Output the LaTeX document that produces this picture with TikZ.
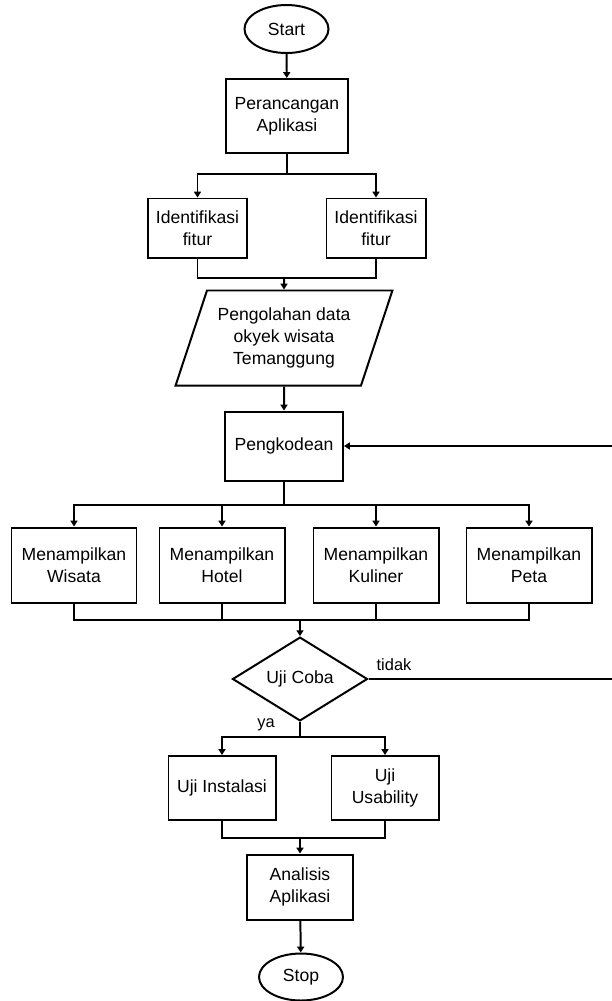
\documentclass[tikz,border=0pt]{standalone}
\usepackage{fontspec}
\setmainfont{Liberation Sans}
\usetikzlibrary{shapes.geometric,arrows.meta}

\begin{document}
\begin{tikzpicture}[x=0.03cm,y=-0.03cm,
  line width=1.7pt,
  every node/.style={font=\fontsize{15pt}{19pt}\selectfont, align=center},
  proc/.style={draw, rectangle, inner sep=2pt},
  term/.style={draw, ellipse, inner sep=0pt, minimum width=2.52cm},
  io/.style={draw, trapezium, trapezium left angle=66, trapezium right angle=114,
    trapezium stretches=true, minimum width=6.51cm, minimum height=2.85cm, inner sep=0pt},
  decide/.style={draw, diamond, inner sep=0pt, minimum width=4.05cm, minimum height=2.34cm},
  arr/.style={-{Triangle[width=6pt,length=5pt]}},
  lbl/.style={font=\fontsize{14pt}{16pt}\selectfont}
]
\useasboundingbox (0,0) rectangle (611,1001);

% nodes
\node[term, minimum height=1.44cm] (start) at (286.5,29) {Start};
\node[proc, minimum width=3.66cm, minimum height=2.22cm] (peran) at (287,116) {Perancangan\\Aplikasi};
\node[proc, minimum width=2.97cm, minimum height=1.77cm] (id1) at (197.5,228) {Identifikasi\\fitur};
\node[proc, minimum width=2.97cm, minimum height=1.77cm] (id2) at (376,228) {Identifikasi\\fitur};
\node[io] (olah) at (284,338) {Pengolahan data\\okyek wisata\\Temanggung};
\node[proc, minimum width=3.54cm, minimum height=2.07cm] (kode) at (284,446) {Pengkodean};
\node[proc, minimum width=3.75cm, minimum height=2.25cm] (w1) at (74,565) {Menampilkan\\Wisata};
\node[proc, minimum width=3.75cm, minimum height=2.25cm] (w2) at (222,565) {Menampilkan\\Hotel};
\node[proc, minimum width=3.75cm, minimum height=2.25cm] (w3) at (376,565) {Menampilkan\\Kuliner};
\node[proc, minimum width=3.75cm, minimum height=2.25cm] (w4) at (529,565) {Menampilkan\\Peta};
\node[decide] (uji) at (300,679) {Uji Coba};
\node[proc, minimum width=3.21cm, minimum height=1.92cm] (ui) at (222,788) {Uji Instalasi};
\node[proc, minimum width=3.21cm, minimum height=1.92cm] (uu) at (385,788) {Uji\\Usability};
\node[proc, minimum width=3.18cm, minimum height=1.95cm] (ana) at (300,887) {Analisis\\Aplikasi};
\node[term, minimum height=1.41cm] (stop) at (301,977) {Stop};
\node[lbl] (tidak) at (394,665) {tidak};
\node[lbl] (ya) at (266,725) {ya};

% junction points
\coordinate (s1) at (287,174);
\coordinate (m1) at (284,278);
\coordinate (s2) at (284,505);
\coordinate (m2) at (300,620);
\coordinate (s3) at (300,737);
\coordinate (m3) at (300,838);
\coordinate (back) at (613,679);

% connectors
\draw[arr] (start) -- (peran);
\draw (peran.south) -- (s1);
\draw[arr] (s1) -| (id1.north);
\draw[arr] (s1) -| (id2.north);
\draw (id1.south) |- (m1);
\draw (id2.south) |- (m1);
\draw[arr] (m1) -- (olah.north);
\draw[arr] (olah.south) -- (kode.north);
\draw (kode.south) -- (s2);
\draw[arr] (s2) -| (w1.north);
\draw[arr] (s2) -| (w2.north);
\draw[arr] (s2) -| (w3.north);
\draw[arr] (s2) -| (w4.north);
\draw (w1.south) |- (m2);
\draw (w2.south) |- (m2);
\draw (w3.south) |- (m2);
\draw (w4.south) |- (m2);
\draw[arr] (m2) -- (uji.north);
\draw[arr] (uji.east) -- (back) |- (kode.east);
\draw (uji.south) -- (s3);
\draw[arr] (s3) -| (ui.north);
\draw[arr] (s3) -| (uu.north);
\draw (ui.south) |- (m3);
\draw (uu.south) |- (m3);
\draw[arr] (m3) -- (ana.north);
\draw[arr] (ana) -- (stop);
\end{tikzpicture}
\end{document}
